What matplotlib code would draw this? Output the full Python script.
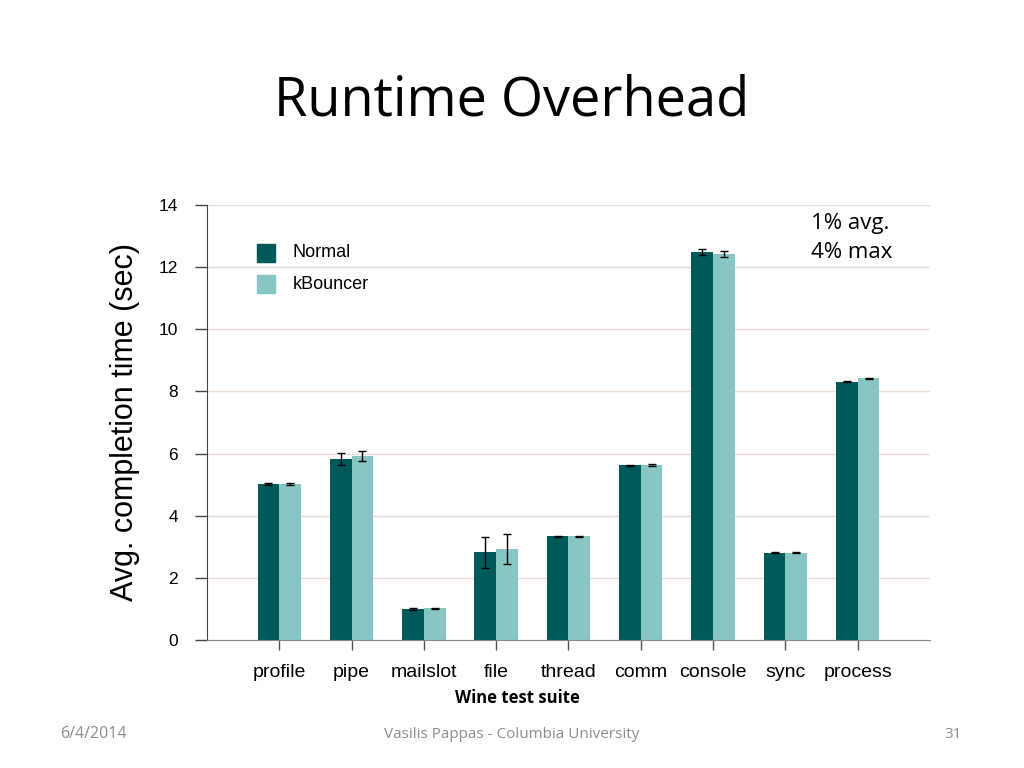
import numpy as np
import matplotlib
matplotlib.use("Agg")
import matplotlib.pyplot as plt
from matplotlib.patches import Rectangle

# Wine test suite completion times (sec)
tests = ["profile", "pipe", "mailslot", "file", "thread", "comm", "console", "sync", "process"]
normal = [5.02, 5.83, 1.00, 2.83, 3.34, 5.62, 12.48, 2.81, 8.31]
kbouncer = [5.02, 5.92, 1.02, 2.93, 3.34, 5.63, 12.42, 2.81, 8.42]
normal_err = [0.02, 0.20, 0.02, 0.50, 0.02, 0.02, 0.10, 0.02, 0.02]
kbouncer_err = [0.02, 0.17, 0.02, 0.48, 0.02, 0.02, 0.10, 0.02, 0.02]
yticks = [0, 2, 4, 6, 8, 10, 12, 14]

dark = "#005a5a"
light = "#88c6c6"
grid_col = "#eaddd6"
sans = ["Liberation Sans", "DejaVu Sans"]
calib = ["Open Sans", "DejaVu Sans"]

fig = plt.figure(figsize=(10.24, 7.68), dpi=100)
ax = fig.add_axes([0.2021, 0.1667, 0.7061, 0.5664])

x = np.arange(len(tests))
w = 0.3
ax.bar(x - w / 2, normal, w, color=dark, zorder=2)
ax.bar(x + w / 2, kbouncer, w, color=light, zorder=2)
ax.errorbar(x - w / 2, normal, yerr=normal_err, fmt="none", ecolor="black",
            elinewidth=1, capsize=3, capthick=1, zorder=3)
ax.errorbar(x + w / 2, kbouncer, yerr=kbouncer_err, fmt="none", ecolor="black",
            elinewidth=1, capsize=3, capthick=1, zorder=3)

ax.set_xlim(-1, 9)
ax.set_ylim(0, 14)
ax.set_yticks(yticks)
ax.set_xticks(x)
ax.set_xticklabels(tests, family=sans, fontsize=14)
for lbl in ax.get_yticklabels():
    lbl.set_family(sans)
    lbl.set_fontsize(12.5)
ax.tick_params(axis="x", length=7.5, width=1, color="#555555", pad=10)
ax.tick_params(axis="y", length=9, width=1, color="#444444", pad=12)
ax.grid(axis="y", color=grid_col, linewidth=1, zorder=0)
for s in ["top", "right"]:
    ax.spines[s].set_visible(False)
ax.spines["left"].set_color("#444444")
ax.spines["bottom"].set_color("#888888")

ax.set_ylabel("Avg. completion time (sec)", family=sans, fontsize=22, labelpad=13)

# legend drawn as squares in axes coords
for i, (lab, col) in enumerate([("Normal", dark), ("kBouncer", light)]):
    yy = 0.89 - i * 0.072
    ax.add_patch(Rectangle((0.0692, yy - 0.02), 0.025, 0.041, transform=ax.transAxes,
                           color=col, clip_on=False, zorder=4))
    ax.text(0.118, yy, lab, transform=ax.transAxes, family=sans, fontsize=13,
            va="center", ha="left")

ax.text(0.8355, 0.982, "1% avg.\n4% max", transform=ax.transAxes, family=calib,
        fontsize=16, va="top", ha="left", linespacing=1.5)

fig.text(0.505, 0.0911, "Wine test suite", family=calib, fontsize=12,
         fontweight="bold", ha="center", va="center")
fig.text(0.5, 1 - 115 / 768, "Runtime Overhead", family=calib, fontsize=39,
         ha="center", va="baseline")
fig.text(0.091, 0.044, "6/4/2014", family=calib, fontsize=11.5, color="#8c8c8c",
         ha="center", va="center")
fig.text(0.5, 0.044, "Vasilis Pappas - Columbia University", family=calib,
         fontsize=11, color="#8c8c8c", ha="center", va="center")
fig.text(0.931, 0.044, "31", family=calib, fontsize=11, color="#8c8c8c",
         ha="center", va="center")

fig.savefig("out.png", dpi=100)
